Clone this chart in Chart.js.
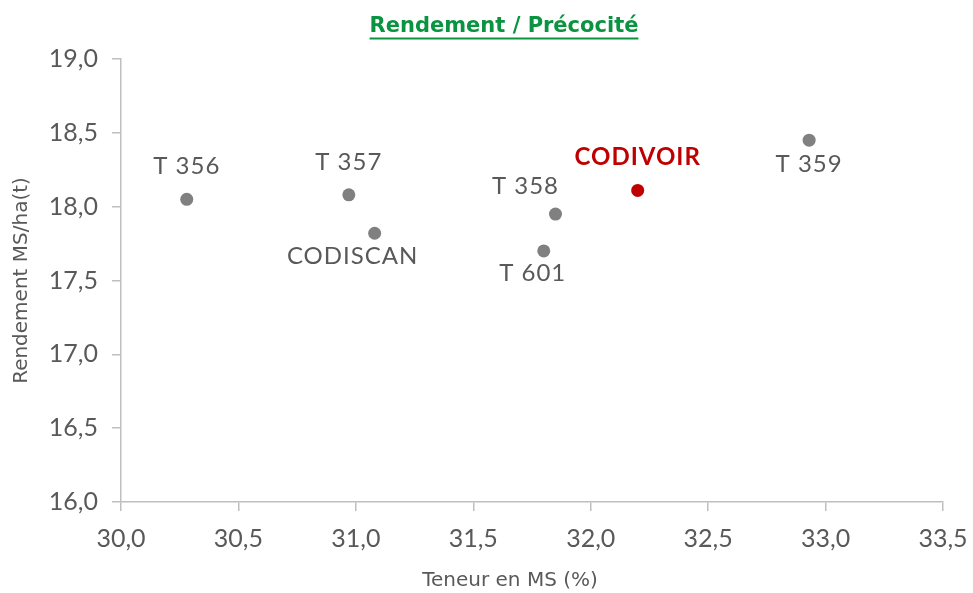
<!DOCTYPE html>
<html>
<head>
<meta charset="utf-8">
<script src="https://cdn.jsdelivr.net/npm/chart.js@4.4.1/dist/chart.umd.min.js"></script>
<style>
    body { margin: 0; background: #fff; }
    #wrap { width: 973px; height: 593px; position: relative; }
</style>
</head>
<body>
<div id="wrap"><canvas id="myScatterChart"></canvas></div>
<script>
// data
const varieties = ["T 356", "T 357", "CODISCAN", "T 358", "T 601", "CODIVOIR", "T 359"];
const teneurMS = [30.28, 30.97, 31.08, 31.85, 31.80, 32.20, 32.93];
const rendement = [18.05, 18.08, 17.82, 17.95, 17.70, 18.11, 18.45];
const highlight = "CODIVOIR";
const chartTitle = "Rendement / Précocité";
const xTitle = "Teneur en MS (%)";
const yTitle = "Rendement MS/ha(t)";

// where each label sits relative to its point (px)
const labelOffsets = [[0, -33], [0, -33], [-22, 23], [-30, -28], [-11, 22], [0, -33], [0, 24]];

const FONT = "Lato, 'Open Sans', sans-serif";
const WIDE = "'DejaVu Sans', sans-serif";
const GREY_TEXT = "#595959";
const AXIS = "#bfbfbf";
const GREEN = "#0A9340";

const points = teneurMS.map((x, i) => ({ x: x, y: rendement[i] }));
const colors = varieties.map((v) => (v === highlight ? "#C00000" : "#808080"));

const fmt = (v) => Number(v).toFixed(1).replace(".", ",");

// variety names next to points, underlined title, x axis title
const labelPlugin = {
    id: "pointLabels",
    afterDatasetsDraw(chart) {
        const ctx = chart.ctx;
        const meta = chart.getDatasetMeta(0);
        ctx.save();
        ctx.textAlign = "center";
        ctx.textBaseline = "middle";
        ctx.letterSpacing = "1px";
        meta.data.forEach((pt, i) => {
            const isHi = varieties[i] === highlight;
            ctx.font = (isHi ? "bold " : "") + "24px " + FONT;
            ctx.fillStyle = isHi ? "#C00000" : GREY_TEXT;
            ctx.fillText(varieties[i], pt.x + labelOffsets[i][0], pt.y + labelOffsets[i][1]);
        });
        ctx.restore();
    },
    afterDraw(chart) {
        const ctx = chart.ctx;
        ctx.save();
        ctx.textAlign = "center";
        ctx.textBaseline = "middle";

        // chart title (underlined)
        ctx.font = "bold 21px " + WIDE;
        ctx.fillStyle = GREEN;
        const tx = 504, ty = 27;
        ctx.fillText(chartTitle, tx, ty);
        const w = ctx.measureText(chartTitle).width;
        ctx.fillRect(tx - w / 2, 37.5, w, 2);

        // x axis title
        ctx.font = "20px " + WIDE;
        ctx.fillStyle = GREY_TEXT;
        ctx.fillText(xTitle, 510, 581);
        ctx.restore();
    },
};

const ctx = document.getElementById("myScatterChart");

new Chart(ctx, {
    type: "scatter",
    data: {
        datasets: [
            {
                label: "Rendement",
                data: points,
                pointBackgroundColor: colors,
                pointBorderWidth: 0,
                pointRadius: 6.5,
                pointHoverRadius: 6.5,
            },
        ],
    },
    options: {
        responsive: true,
        maintainAspectRatio: false,
        animation: false,
        layout: {
            padding: { left: 0, right: 30, top: 59, bottom: 0 },
        },
        scales: {
            x: {
                type: "linear",
                min: 30,
                max: 33.5,
                afterFit: (axis) => {
                    axis.height = 91;
                    axis.paddingLeft = 0;
                    axis.paddingRight = 0;
                },
                border: { display: true, color: AXIS, width: 1.5 },
                grid: {
                    display: true,
                    drawOnChartArea: false, // ticks only, no grid
                    tickLength: 9,
                    color: AXIS,
                    lineWidth: 1.5,
                },
                ticks: {
                    stepSize: 0.5,
                    padding: 13,
                    color: GREY_TEXT,
                    font: { family: FONT, size: 25 },
                    callback: (v) => fmt(v),
                },
            },
            y: {
                min: 16,
                max: 19,
                afterFit: (axis) => {
                    axis.width = 121;
                    axis.paddingTop = 0;
                    axis.paddingBottom = 0;
                },
                border: { display: true, color: AXIS, width: 1.5 },
                grid: {
                    display: true,
                    drawOnChartArea: false,
                    tickLength: 9,
                    color: AXIS,
                    lineWidth: 1.5,
                },
                ticks: {
                    stepSize: 0.5,
                    padding: 14,
                    color: GREY_TEXT,
                    font: { family: FONT, size: 25 },
                    callback: (v) => fmt(v),
                },
                title: {
                    display: true,
                    text: yTitle,
                    color: GREY_TEXT,
                    font: { family: WIDE, size: 20 },
                    padding: { top: 10, bottom: 0 },
                },
            },
        },
        plugins: {
            legend: { display: false },
            tooltip: { enabled: false },
            title: { display: false },
        },
    },
    plugins: [labelPlugin],
});
</script>
</body>
</html>
